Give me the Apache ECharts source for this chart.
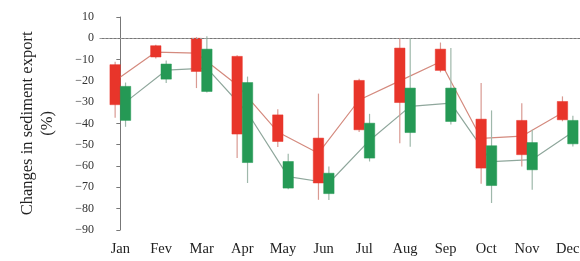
<!DOCTYPE html>
<html>
<head>
<meta charset="utf-8">
<script src="https://cdn.jsdelivr.net/npm/echarts@6/dist/echarts.min.js"></script>
<style>html,body{margin:0;padding:0;background:#fff;overflow:hidden}#c{width:580px;height:261px}</style>
</head>
<body>
<div id="c"></div>
<script>
const months = ['Jan','Fev','Mar','Apr','May','Jun','Jul','Aug','Sep','Oct','Nov','Dec'];
// [min, boxBottom, boxTop, max]
const redBoxes = [
  [-37.4,-31.2,-12.4,-11],[-9.5,-8.8,-3.5,-3],[-23.4,-15.6,0,0.5],[-56.3,-45,-8.5,-8],
  [-51.1,-48.5,-36,-33.3],[-75.9,-68,-46.9,-26],[-44,-43,-19.8,-19],[-49.3,-30.2,-4.6,0],
  [-16,-15.1,-5.1,-2],[-68.4,-61,-38,-21],[-60.2,-54.7,-38.6,-30.5],[-39,-38.3,-29.7,-27.3]
];
const greenBoxes = [
  [-41.6,-38.6,-22.6,-20.8],[-21,-19.2,-12.1,-10.4],[-25.5,-25,-5.1,1],[-68,-58.4,-20.8,-18],
  [-71,-70.4,-57.9,-54.3],[-76,-73,-63.4,-60.2],[-57.9,-56.3,-39.9,-35.5],[-51,-44.3,-23.4,0],
  [-40.5,-39.1,-23.4,-4.6],[-77.4,-69.2,-50.5,-33.9],[-71.2,-61.8,-49,-43],[-50.8,-49.6,-38.6,-36.4]
];
const redLine = [-20,-6.5,-7,-22,-44,-54,-29,-20,-11,-47,-46,-35];
const greenLine = [-30,-15,-14,-35,-65,-68,-48,-32,-30.5,-58,-57,-44];
const yTicks = {min:-90, max:10, interval:10};

const OFF = 0.128; // fraction of category band
function boxRender(color, whiskerColor, sign) {
  return function (params, api) {
    const i = api.value(0);
    const band = api.size([1, 0])[0];
    const dx = sign * OFF * band;
    const hw = 5.2;
    const pMin = api.coord([i, api.value(1)]);
    const pB = api.coord([i, api.value(2)]);
    const pT = api.coord([i, api.value(3)]);
    const pMax = api.coord([i, api.value(4)]);
    const x = pMin[0] + dx;
    return {
      type: 'group',
      children: [
        {type:'line', shape:{x1:x, y1:pMax[1], x2:x, y2:pMin[1]}, style:{stroke:whiskerColor, lineWidth:1.2}},
        {type:'rect', shape:{x:x-hw, y:pT[1], width:hw*2, height:pB[1]-pT[1]}, style:{fill:color, stroke:color, lineWidth:0.5}}
      ]
    };
  };
}
const chart = echarts.init(document.getElementById('c'), null, {renderer:'canvas'});
const serif = 'Liberation Serif';
chart.setOption({
  animation:false,
  grid:{left:100, right:-8, top:17, bottom:31.2, outerBoundsMode:'none', containLabel:false},
  xAxis:[{
    type:'category', data:months, boundaryGap:true,
    axisLine:{lineStyle:{color:'#777', width:1}},
    axisTick:{inside:true, length:3, lineStyle:{color:'#777'}},
    axisLabel:{fontFamily:serif, fontSize:14.5, color:'#222', margin:12},
    splitLine:{show:false}
  },{
    type:'value', min:-0.5, max:11.5, show:false
  }],
  yAxis:{
    type:'value', min:yTicks.min, max:yTicks.max, interval:yTicks.interval,
    name:'Changes in sediment export\n(%)', nameLocation:'middle', nameRotate:90, nameGap:42,
    nameTextStyle:{fontFamily:serif, fontSize:16.5, color:'#222', lineHeight:20},
    axisLine:{show:true, lineStyle:{color:'#777'}},
    axisTick:{show:true, length:4, lineStyle:{color:'#777'}},
    axisLabel:{fontFamily:serif, fontSize:12, color:'#333', margin:6,
      formatter:v => String(v).replace('-', '\u2212')},
    splitLine:{show:false}
  },
  series:[
    {type:'line', xAxisIndex:1, data:redLine.map((v,i)=>[i-OFF, v]), symbol:'none',
     lineStyle:{color:'#d48a7e', width:1.2}, z:1,
     markLine:{silent:true, symbol:'none', label:{show:false},
       lineStyle:{color:'#9a9a9a', type:[2,2], width:1}, data:[{yAxis:0}]}},
    {type:'line', xAxisIndex:1, data:greenLine.map((v,i)=>[i+OFF, v]), symbol:'none',
     lineStyle:{color:'#8fa79c', width:1.2}, z:1},
    {type:'custom', xAxisIndex:0, data:redBoxes.map((b,i)=>[i].concat(b)), encode:{x:0, y:[1,2,3,4]},
     renderItem:boxRender('#e8352a', '#d99a92', -1), z:3},
    {type:'custom', xAxisIndex:0, data:greenBoxes.map((b,i)=>[i].concat(b)), encode:{x:0, y:[1,2,3,4]},
     renderItem:boxRender('#259955', '#9fb8ab', 1), z:3}
  ]
});
</script>
</body>
</html>
